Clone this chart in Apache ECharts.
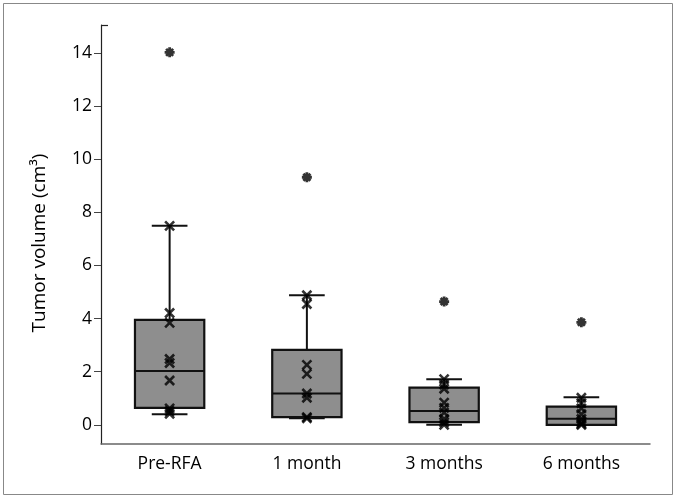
<!DOCTYPE html>
<html>
<head>
<meta charset="utf-8">
<script src="https://cdn.jsdelivr.net/npm/echarts@6/dist/echarts.min.js"></script>
<style>
html,body{margin:0;padding:0;background:#fff;}
#c{width:677px;height:500px;}
</style>
</head>
<body>
<div id="c"></div>
<script>
var categories = ['Pre-RFA', '1 month', '3 months', '6 months'];
// [lower whisker, Q1, median, Q3, upper whisker]
var boxStats = [
  [0.40, 0.64, 2.03, 3.95, 7.49],
  [0.25, 0.29, 1.18, 2.82, 4.88],
  [0.00, 0.10, 0.52, 1.40, 1.72],
  [0.00, 0.00, 0.23, 0.69, 1.04]
];
var pointsPreRFA = [7.49, 4.21, 3.84, 2.48, 2.33, 1.67, 0.62, 0.52, 0.42];
var points1Month = [4.88, 4.55, 2.26, 1.92, 1.18, 1.02, 0.29, 0.25];
var points3Months = [1.72, 1.52, 1.36, 0.84, 0.64, 0.46, 0.22, 0.10, 0.00];
var points6Months = [1.02, 0.82, 0.62, 0.40, 0.22, 0.10, 0.04, 0.00];
var outliers = [14.02, 9.32, 4.64, 3.86];
var yTicks = [0, 2, 4, 6, 8, 10, 12, 14];

var pointGroups = [pointsPreRFA, points1Month, points3Months, points6Months];
var xData = [];
pointGroups.forEach(function (g, i) { g.forEach(function (v) { xData.push([i, v]); }); });
var outData = outliers.map(function (v, i) { return [i, v]; });
var boxData = boxStats.map(function (b, i) { return [i].concat(b); });

var FONT = 'Open Sans';
var chart = echarts.init(document.getElementById('c'), null, {renderer: 'canvas'});

function renderBox(params, api) {
  var idx = api.value(0);
  var band = api.size([1, 0])[0];
  var bw = band * 0.505, cw = band * 0.26;
  var pMin = api.coord([idx, api.value(1)]);
  var pQ1 = api.coord([idx, api.value(2)]);
  var pMed = api.coord([idx, api.value(3)]);
  var pQ3 = api.coord([idx, api.value(4)]);
  var pMax = api.coord([idx, api.value(5)]);
  var cx = pMed[0];
  var ls = {stroke: '#111', lineWidth: 2};
  return {
    type: 'group',
    children: [
      {type: 'line', shape: {x1: cx, y1: pQ3[1], x2: cx, y2: pMax[1]}, style: ls},
      {type: 'line', shape: {x1: cx, y1: pQ1[1], x2: cx, y2: pMin[1]}, style: ls},
      {type: 'line', shape: {x1: cx - cw / 2, y1: pMax[1], x2: cx + cw / 2, y2: pMax[1]}, style: ls},
      {type: 'line', shape: {x1: cx - cw / 2, y1: pMin[1], x2: cx + cw / 2, y2: pMin[1]}, style: ls},
      {type: 'rect', shape: {x: cx - bw / 2, y: pQ3[1], width: bw, height: pQ1[1] - pQ3[1]},
        style: {fill: '#8e8e8e', stroke: '#111', lineWidth: 2.2}},
      {type: 'line', shape: {x1: cx - bw / 2, y1: pMed[1], x2: cx + bw / 2, y2: pMed[1]}, style: ls}
    ]
  };
}

chart.setOption({
  animation: false,
  backgroundColor: '#fff',
  grid: {left: 101, right: 27, top: 25, bottom: 56},
  graphic: [{
    type: 'rect', shape: {x: 3.5, y: 3.5, width: 669, height: 491},
    style: {fill: 'none', stroke: '#888', lineWidth: 1}, z: -1
  }, {
    type: 'line', shape: {x1: 101, y1: 25.5, x2: 108, y2: 25.5},
    style: {stroke: '#222', lineWidth: 1.2}
  }, {
    type: 'text', x: 40, y: 243, rotation: Math.PI / 2,
    style: {text: 'Tumor volume (cm³)', fill: '#000', font: '19px "Open Sans"',
      textAlign: 'center', textVerticalAlign: 'middle'}
  }],
  xAxis: {
    type: 'category',
    data: categories,
    boundaryGap: true,
    axisLine: {onZero: false, lineStyle: {color: '#666', width: 1.5}},
    axisTick: {show: false},
    axisLabel: {color: '#000', fontSize: 17.5, fontFamily: FONT, margin: 11},
    splitLine: {show: false}
  },
  yAxis: {
    type: 'value',
    min: -0.72,
    max: 15.05,
    axisLine: {show: true, lineStyle: {color: '#222', width: 1.2}},
    axisTick: {show: true, length: 7, customValues: yTicks, lineStyle: {color: '#444'}},
    axisLabel: {color: '#000', fontSize: 17.5, fontFamily: FONT, margin: 9, customValues: yTicks},
    splitLine: {show: false}
  },
  series: [{
    type: 'custom',
    renderItem: renderBox,
    data: boxData,
    encode: {x: 0, y: [1, 2, 3, 4, 5]},
    z: 2
  }, {
    type: 'scatter',
    data: xData,
    symbol: 'path://M0 0 L10 10 M10 0 L0 10',
    symbolSize: 9,
    itemStyle: {color: 'none', borderColor: '#000', borderWidth: 2.6},
    z: 5
  }, {
    type: 'scatter',
    data: outData,
    symbol: 'path://M0 5 L10 5 M5 0 L5 10 M1.5 1.5 L8.5 8.5 M8.5 1.5 L1.5 8.5',
    symbolSize: 10,
    itemStyle: {color: 'none', borderColor: '#000', borderWidth: 2.8},
    z: 5
  }]
});
</script>
</body>
</html>
